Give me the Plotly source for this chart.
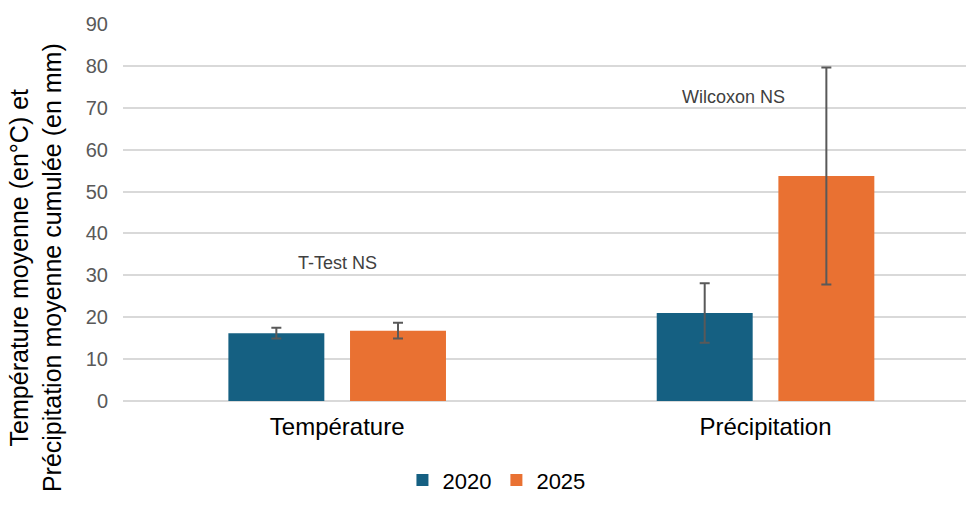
import plotly.graph_objects as go

# Categories, yearly means and their error bar half-widths
categories = ["Température", "Précipitation"]
years = ["2020", "2025"]
means_2020 = [16.2, 21.0]
means_2025 = [16.8, 53.7]
err_2020 = [1.3, 7.1]
err_2025 = [1.9, 25.9]
y_ticks = [0, 10, 20, 30, 40, 50, 60, 70, 80, 90]
test_labels = ["T-Test NS", "Wilcoxon NS"]
test_label_x = [0.0, 0.926]
test_label_heights = [33.0, 72.5]

colors = {"2020": "#156082", "2025": "#E97132"}
font_family = "Liberation Sans, Arial, sans-serif"

bar_width = 0.224
offsets = {"2020": -0.254, "2025": 0.030}

fig = go.Figure()
for year, means, errs in [("2020", means_2020, err_2020), ("2025", means_2025, err_2025)]:
    fig.add_trace(go.Bar(
        name=year,
        x=[0, 1],
        y=means,
        width=bar_width,
        offset=offsets[year],
        marker=dict(color=colors[year], line=dict(width=0)),
        error_y=dict(type="data", array=errs, visible=True,
                     color="#595959", thickness=2, width=5),
    ))

# Statistical test labels above each group
for label, lx, h in zip(test_labels, test_label_x, test_label_heights):
    fig.add_annotation(
        x=lx, y=h, text=label, showarrow=False,
        xanchor="center", yanchor="middle",
        font=dict(family=font_family, size=18, color="#404040"),
    )

# Two-line y-axis title
fig.add_annotation(
    xref="paper", yref="paper", x=-0.103, y=0.353,
    text="Température moyenne (en°C) et<br>Précipitation moyenne cumulée (en mm)",
    textangle=-90, showarrow=False, xanchor="center", yanchor="middle",
    font=dict(family=font_family, size=25, color="#000000"),
)

fig.update_layout(
    width=966, height=507,
    margin=dict(l=123, r=0, t=24, b=106),
    plot_bgcolor="white", paper_bgcolor="white",
    barmode="overlay",
    font=dict(family=font_family),
    showlegend=True,
    legend=dict(
        orientation="h", x=0.443, y=-0.21, xanchor="center", yanchor="middle",
        font=dict(family=font_family, size=22, color="#000000"),
        itemwidth=30, traceorder="normal",
    ),
    xaxis=dict(
        range=[-0.5, 1.468],
        tickmode="array", tickvals=[0, 1], ticktext=categories,
        showgrid=False, zeroline=False, showline=False,
        tickfont=dict(family=font_family, size=24, color="#000000"),
        ticklabelstandoff=9,
    ),
    yaxis=dict(
        range=[0, 90],
        tickmode="array", tickvals=y_ticks,
        showgrid=True, gridcolor="#d9d9d9", gridwidth=2,
        zeroline=True, zerolinecolor="#d9d9d9", zerolinewidth=2,
        showline=False,
        tickfont=dict(family=font_family, size=20, color="#595959"),
        ticklabelstandoff=14,
    ),
)

fig.write_html("out.html")
